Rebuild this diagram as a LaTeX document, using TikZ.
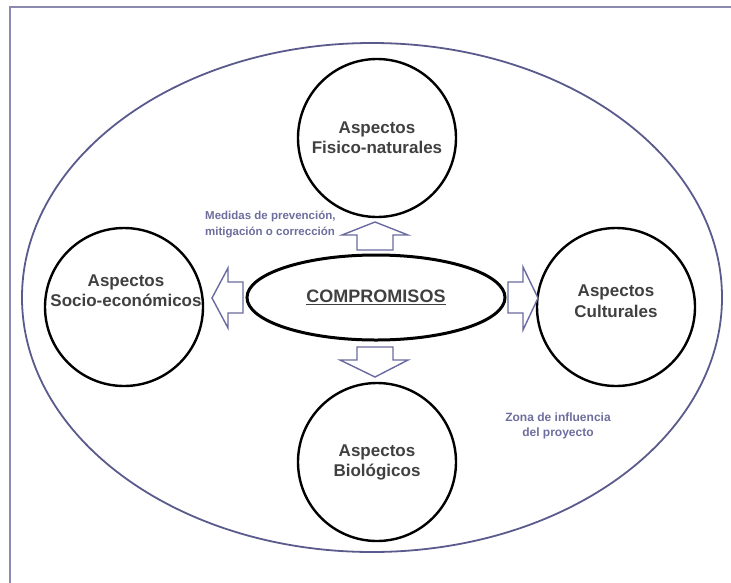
\documentclass[tikz,border=0pt]{standalone}
\usepackage{fontspec}
\setmainfont{Liberation Sans}
\usetikzlibrary{shapes.geometric}
\definecolor{framec}{HTML}{8A8AB0}
\definecolor{zonec}{HTML}{5A5A8C}
\definecolor{arrowc}{HTML}{6A6AA0}
\definecolor{txtc}{HTML}{404040}
\definecolor{labc}{HTML}{6E6E9E}
\begin{document}
\begin{tikzpicture}[x=1pt,y=-1pt,
  aspect/.style={circle,draw=black,line width=2.4pt,minimum size=158pt,inner sep=0pt,
    align=center,text=txtc,font=\bfseries\fontsize{17}{20}\selectfont},
  blockarr/.style={draw=arrowc,line width=1.4pt,fill=white,line join=miter},
  lab/.style={text=labc,font=\bfseries\fontsize{11.5}{16}\selectfont,inner sep=0pt}]
\useasboundingbox (0,0) rectangle (731,582);
% frame
\draw[framec,line width=1.6pt] (10,590) -- (10,7) -- (740,7);
% zone of influence
\node[ellipse,draw=zonec,line width=1.8pt,minimum width=700pt,minimum height=509pt,inner sep=0pt] (zona) at (372,297.5) {};
% circles
\node[aspect] (fis) at (377,138) {Aspectos\\Fisico-naturales};
\node[aspect] (bio) at (377,462) {Aspectos\\Biológicos};
\node[aspect] (soc) at (124,307) {};
\node[text=txtc,font=\bfseries\fontsize{17}{20}\selectfont,align=center] (soct) at (126,291) {Aspectos\\Socio-económicos};
\node[aspect] (cul) at (616,307) {};
\node[text=txtc,font=\bfseries\fontsize{17}{21}\selectfont,align=center] (cult) at (616,301) {Aspectos\\Culturales};
% central ellipse
\node[ellipse,draw=black,line width=3pt,minimum width=258pt,minimum height=85pt,inner sep=0pt,
  text=txtc,font=\bfseries\fontsize{18}{20}\selectfont] (comp) at (376,297.5) {\underline{COMPROMISOS}};
% block arrows
\draw[blockarr] (212,298) -- (228,268) -- (228,282) -- (243,282) -- (243,313) -- (228,313) -- (228,328) -- cycle;
\draw[blockarr] (538,298) -- (523,267) -- (523,282) -- (508,282) -- (508,313) -- (523,313) -- (523,330) -- cycle;
\draw[blockarr] (375,222) -- (342,235) -- (357,235) -- (357,250) -- (393,250) -- (393,235) -- (408,235) -- cycle;
\draw[blockarr] (375,377) -- (340,360) -- (357,360) -- (357,347) -- (393,347) -- (393,360) -- (408,360) -- cycle;
% labels
\node[lab,align=left,anchor=west] (med) at (205,224) {Medidas de prevención,\\mitigación o corrección};
\node[lab,align=center,font=\bfseries\fontsize{12}{15}\selectfont] (zl) at (558,426) {Zona de influencia\\del proyecto};
\end{tikzpicture}
\end{document}
